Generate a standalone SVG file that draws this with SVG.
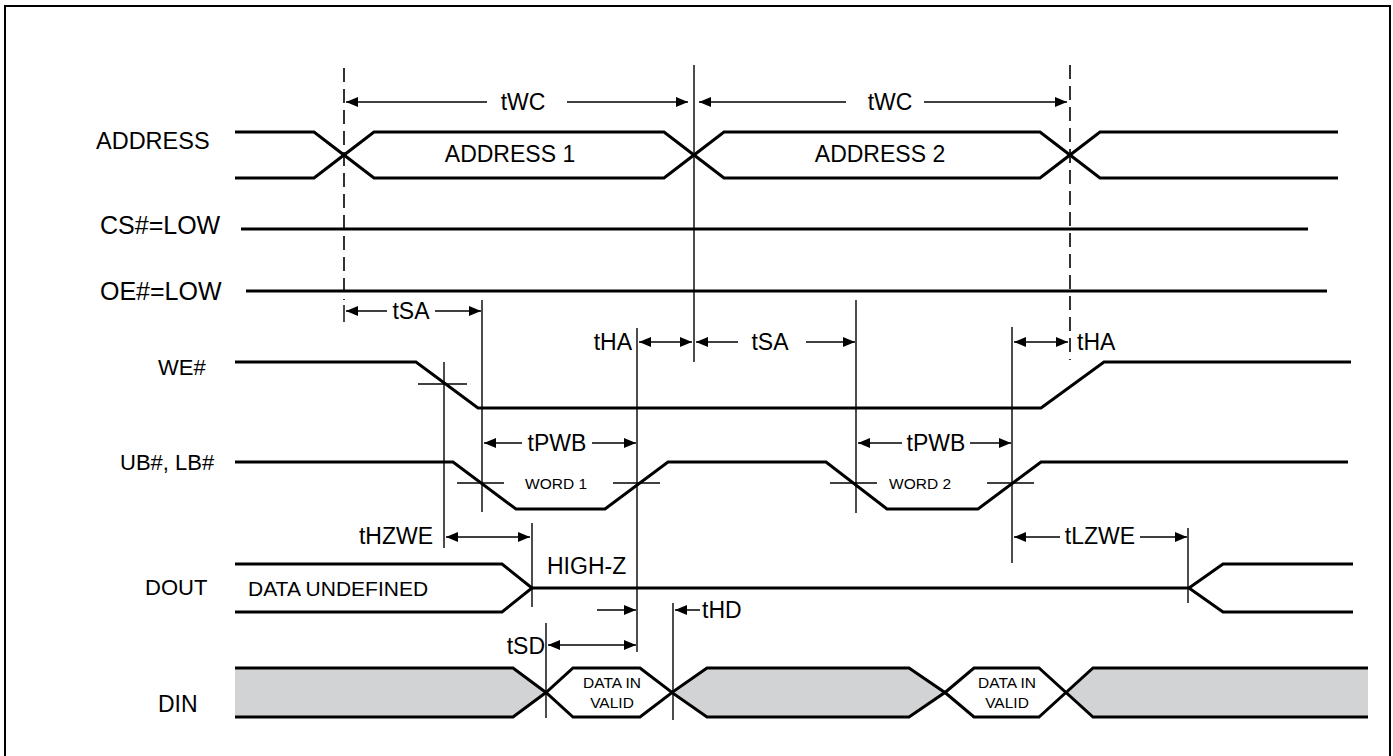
<svg xmlns="http://www.w3.org/2000/svg" width="1393" height="756" viewBox="0 0 1393 756">
<style>
text{font-family:"Liberation Sans",Arial,sans-serif;fill:#000}
.lbl{font-size:23px}
.nm{font-size:23px}
.sm{font-size:15.5px}
.sig{fill:none;stroke:#000;stroke-width:3;stroke-linejoin:miter}
.g{fill:#d2d3d5;stroke:none}
.w{fill:#fff;stroke:none}
.v{stroke:#000;stroke-width:1.4;fill:none}
.d{stroke:#000;stroke-width:1.6;fill:none;stroke-dasharray:14 7}
.a{stroke:#000;stroke-width:1.5;fill:none}
.as{marker-start:url(#ah)}
.ae{marker-end:url(#ah)}
</style>
<defs>
<marker id="ah" viewBox="0 0 12 10" refX="12" refY="5" markerWidth="12" markerHeight="10" markerUnits="userSpaceOnUse" orient="auto-start-reverse">
<path d="M0,0 L12,5 L0,10 z" fill="#000"/>
</marker>
</defs>
<rect x="5" y="6" width="1385" height="770" fill="#fff" stroke="#000" stroke-width="2"/>

<g id="address">
<text class="nm" x="96" y="149" style="font-size:23.5px">ADDRESS</text>
<path class="sig" d="M235,132 H314 L344,155 L374,132 H664 L694,155 L724,132 H1040 L1070,155 L1100,132 H1338"/>
<path class="sig" d="M235,178 H314 L344,155 L374,178 H664 L694,155 L724,178 H1040 L1070,155 L1100,178 H1338"/>
<text class="lbl" x="510" y="162" text-anchor="middle">ADDRESS 1</text>
<text class="lbl" x="880" y="162" text-anchor="middle">ADDRESS 2</text>
</g>

<g id="cs">
<text class="nm" x="100" y="234" style="font-size:25px">CS#=LOW</text>
<line class="sig" x1="241" y1="229" x2="1308" y2="229"/>
</g>

<g id="oe">
<text class="nm" x="100" y="300" style="font-size:25px">OE#=LOW</text>
<line class="sig" x1="246" y1="291" x2="1327" y2="291"/>
</g>

<g id="we">
<text class="nm" x="158" y="375" style="font-size:22px">WE#</text>
<path class="sig" d="M235,362 H416 L478,408 H1041 L1104,362 H1351"/>
</g>

<g id="ublb">
<text class="nm" x="120" y="470" style="font-size:22px">UB#, LB#</text>
<path class="sig" d="M235,462 H453 L516,509 H605 L668,462 H826 L887,509 H978 L1041,462 H1348"/>
<text class="sm" x="556" y="489" text-anchor="middle">WORD 1</text>
<text class="sm" x="920" y="489" text-anchor="middle">WORD 2</text>
</g>

<g id="dout">
<text class="nm" x="145" y="595" style="font-size:22px">DOUT</text>
<path class="sig" d="M235,564 H502 L532,588 L502,612 H235"/>
<path class="sig" d="M532,588 H1189 L1223,564 H1353 M1189,588 L1223,612 H1353"/>
<text x="248" y="596" style="font-size:21px">DATA UNDEFINED</text>
<text class="lbl" x="547" y="574">HIGH-Z</text>
</g>

<g id="din">
<text class="nm" x="158" y="712">DIN</text>
<path class="g" d="M235,668 H513 L546,692.5 L513,717 H235 Z"/>
<path class="w" d="M546,692.5 L573,668 H640 L672,692.5 L640,717 H573 Z"/>
<path class="g" d="M672,692.5 L707,668 H909 L945,692.5 L909,717 H707 Z"/>
<path class="w" d="M945,692.5 L974,668 H1039 L1066,692.5 L1039,717 H974 Z"/>
<path class="g" d="M1066,692.5 L1093,668 H1368 V717 H1093 Z"/>
<path class="sig" d="M235,668 H513 L546,692.5 L573,668 H640 L672,692.5 L707,668 H909 L945,692.5 L974,668 H1039 L1066,692.5 L1093,668 H1368"/>
<path class="sig" d="M235,717 H513 L546,692.5 L573,717 H640 L672,692.5 L707,717 H909 L945,692.5 L974,717 H1039 L1066,692.5 L1093,717 H1368"/>
<text class="sm" x="612" y="688" text-anchor="middle">DATA IN</text>
<text class="sm" x="612" y="708" text-anchor="middle">VALID</text>
<text class="sm" x="1007" y="688" text-anchor="middle">DATA IN</text>
<text class="sm" x="1007" y="708" text-anchor="middle">VALID</text>
</g>

<g id="connectors">
<line class="d" x1="344" y1="68" x2="344" y2="300"/>
<line class="v" x1="344" y1="305" x2="344" y2="322"/>
<line class="v" x1="694" y1="65" x2="694" y2="362"/>
<line class="d" x1="1070" y1="65" x2="1070" y2="360"/>
<line class="v" x1="482" y1="300" x2="482" y2="512"/>
<line class="v" x1="637" y1="328" x2="637" y2="652"/>
<line class="v" x1="856" y1="300" x2="856" y2="513"/>
<line class="v" x1="1012" y1="327" x2="1012" y2="563"/>
<line class="v" x1="444" y1="362" x2="444" y2="548"/>
<line class="v" x1="418" y1="384" x2="467" y2="384"/>
<line class="v" x1="457" y1="483" x2="504" y2="483"/>
<line class="v" x1="613" y1="483" x2="660" y2="483"/>
<line class="v" x1="830" y1="483" x2="877" y2="483"/>
<line class="v" x1="987" y1="483" x2="1034" y2="483"/>
<line class="v" x1="532" y1="523" x2="532" y2="607"/>
<line class="v" x1="1188" y1="528" x2="1188" y2="603"/>
<line class="v" x1="546" y1="623" x2="546" y2="718"/>
<line class="v" x1="673" y1="603" x2="673" y2="720"/>

<line class="a as" x1="346" y1="102" x2="487" y2="102"/>
<line class="a ae" x1="567" y1="102" x2="688" y2="102"/>
<text class="lbl" x="523" y="110" text-anchor="middle">tWC</text>
<line class="a as" x1="699" y1="102" x2="846" y2="102"/>
<line class="a ae" x1="924" y1="102" x2="1067" y2="102"/>
<text class="lbl" x="890" y="110" text-anchor="middle">tWC</text>

<line class="a as" x1="346" y1="311" x2="387" y2="311"/>
<line class="a ae" x1="435" y1="311" x2="481" y2="311"/>
<text class="lbl" x="411" y="319" text-anchor="middle">tSA</text>
<line class="a as ae" x1="639" y1="342" x2="692" y2="342"/>
<text class="lbl" x="632" y="350" text-anchor="end">tHA</text>
<line class="a as" x1="696" y1="342" x2="738" y2="342"/>
<line class="a ae" x1="806" y1="342" x2="855" y2="342"/>
<text class="lbl" x="770" y="350" text-anchor="middle">tSA</text>
<line class="a as ae" x1="1014" y1="342" x2="1068" y2="342"/>
<text class="lbl" x="1077" y="350">tHA</text>

<line class="a as" x1="484" y1="443" x2="522" y2="443"/>
<line class="a ae" x1="592" y1="443" x2="636" y2="443"/>
<text class="lbl" x="557" y="451" text-anchor="middle">tPWB</text>
<line class="a as" x1="858" y1="443" x2="902" y2="443"/>
<line class="a ae" x1="970" y1="443" x2="1011" y2="443"/>
<text class="lbl" x="936" y="451" text-anchor="middle">tPWB</text>

<line class="a as ae" x1="446" y1="537" x2="530" y2="537"/>
<text class="lbl" x="433" y="544" text-anchor="end">tHZWE</text>
<line class="a as" x1="1014" y1="537" x2="1060" y2="537"/>
<line class="a ae" x1="1140" y1="537" x2="1187" y2="537"/>
<text class="lbl" x="1100" y="544" text-anchor="middle">tLZWE</text>

<line class="a ae" x1="597" y1="610" x2="636" y2="610"/>
<line class="a as" x1="675" y1="610" x2="700" y2="610"/>
<text class="lbl" x="702" y="618">tHD</text>
<line class="a as ae" x1="548" y1="645" x2="636" y2="645"/>
<text class="lbl" x="545" y="654" text-anchor="end">tSD</text>
</g>
</svg>
